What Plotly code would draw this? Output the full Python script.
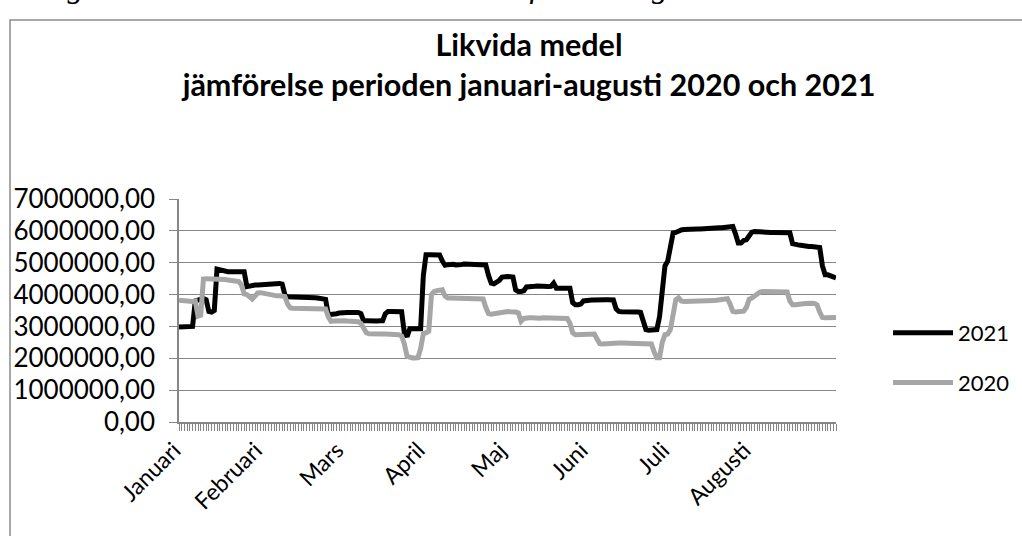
import plotly.graph_objects as go

# ---- data (values in millions SEK, one per day 1 Jan - 31 Aug) ----
values_2021_mkr = [
    2.98, 2.98, 2.98, 2.98, 2.99, 3.00,
    3.80, 3.84, 3.86, 3.88, 3.84,
    3.47, 3.45, 3.50,
    4.80, 4.78, 4.72, 4.72, 4.72, 4.72, 4.72, 4.72, 4.72, 4.72, 4.72,
    4.25, 4.28, 4.28, 4.30, 4.30, 4.31, 4.31, 4.32, 4.33, 4.34, 4.35, 4.35, 4.35, 4.33,
    4.00, 3.93, 3.93, 3.92, 3.92, 3.92, 3.91, 3.91, 3.91, 3.90, 3.90, 3.90, 3.89, 3.88, 3.88, 3.85,
    3.37, 3.37, 3.38, 3.40, 3.42, 3.44, 3.44, 3.44, 3.44, 3.45, 3.45, 3.44, 3.40,
    3.18, 3.18, 3.17, 3.17, 3.17, 3.17, 3.18, 3.18,
    3.40, 3.47, 3.47, 3.47, 3.47, 3.47, 3.46,
    2.80, 2.68, 2.93, 2.93, 2.93, 2.93, 2.93,
    4.60, 5.25, 5.25, 5.25, 5.25, 5.24, 5.24,
    5.05, 4.92, 4.94, 4.95, 4.95, 4.93, 4.92, 4.94, 4.96, 4.96, 4.94, 4.93, 4.93, 4.94, 4.95, 4.94, 4.93,
    4.60, 4.36, 4.34, 4.38, 4.45,
    4.55, 4.57, 4.57, 4.56, 4.55,
    4.15, 4.10, 4.10, 4.12,
    4.24, 4.26, 4.26, 4.26, 4.27, 4.26, 4.26, 4.25, 4.25, 4.26,
    4.36,
    4.20, 4.21, 4.21, 4.20, 4.20, 4.20,
    3.75, 3.68, 3.68, 3.70,
    3.80, 3.82, 3.82, 3.83, 3.83, 3.84, 3.84, 3.84, 3.84, 3.84, 3.84, 3.83,
    3.55, 3.47, 3.46, 3.46, 3.47, 3.48, 3.47, 3.46, 3.45, 3.44,
    3.20, 2.90, 2.88, 2.88, 2.88, 2.90,
    3.30, 4.00, 4.90, 5.05, 5.60, 5.93, 5.95, 6.00,
    6.03, 6.04, 6.05, 6.05, 6.05, 6.06, 6.06, 6.06, 6.07, 6.08, 6.08, 6.07, 6.08, 6.09, 6.10, 6.10, 6.11, 6.12, 6.13, 6.14,
    5.90, 5.62, 5.62, 5.70, 5.72, 5.85, 5.96,
    5.98, 5.97, 5.96, 5.96, 5.96, 5.95, 5.95, 5.95, 5.95, 5.95, 5.95, 5.95, 5.95, 5.94,
    5.60, 5.56, 5.56, 5.55, 5.53,
    5.51, 5.51, 5.51, 5.51, 5.50, 5.48,
    4.90, 4.62, 4.62, 4.60, 4.56, 4.52,
]

values_2020_mkr = [
    3.82, 3.81, 3.80, 3.79, 3.78, 3.78,
    3.80, 3.32, 3.35,
    4.49, 4.50, 4.50, 4.50, 4.49, 4.49, 4.49, 4.48, 4.47, 4.46, 4.45, 4.43, 4.42, 4.41,
    4.30, 4.02, 4.00, 3.92, 3.86, 3.95,
    4.05, 4.06, 4.04, 4.02,
    3.99, 3.98, 3.97, 3.96, 3.96, 3.95, 3.94,
    3.70, 3.58, 3.57, 3.57, 3.57, 3.57, 3.57, 3.56, 3.56, 3.56, 3.56, 3.56, 3.56, 3.55, 3.55,
    3.30, 3.16, 3.17, 3.18, 3.18, 3.18, 3.18, 3.17, 3.16, 3.16, 3.16, 3.15,
    3.10, 2.95, 2.80,
    2.77, 2.76, 2.76, 2.76, 2.76, 2.76, 2.76, 2.76, 2.76, 2.76, 2.75, 2.74, 2.70,
    2.45, 2.06, 2.02, 2.01, 2.01, 2.02, 2.30, 2.78, 2.80, 2.85,
    4.00, 4.10, 4.12, 4.13, 4.15,
    3.95, 3.89, 3.89, 3.89, 3.89, 3.88, 3.88, 3.88, 3.88, 3.88, 3.88, 3.88, 3.87, 3.87, 3.86,
    3.60, 3.40, 3.38, 3.40, 3.42, 3.45,
    3.47, 3.47, 3.47, 3.46, 3.46, 3.45, 3.42,
    3.16, 3.25,
    3.28, 3.27, 3.27, 3.26, 3.26, 3.26, 3.27, 3.27, 3.27, 3.27, 3.26, 3.26, 3.25, 3.25, 3.25, 3.25,
    3.10, 2.80, 2.74, 2.74, 2.74, 2.75, 2.76, 2.77, 2.77, 2.76,
    2.60, 2.46, 2.45, 2.46, 2.47, 2.47, 2.47, 2.48, 2.48, 2.48, 2.48, 2.48, 2.48, 2.48, 2.48, 2.47, 2.47, 2.47, 2.47, 2.46, 2.45,
    2.20, 2.02, 2.02, 2.50, 2.74, 2.76, 2.90, 3.30, 3.84,
    3.90, 3.80, 3.78, 3.78, 3.78, 3.78, 3.78, 3.79, 3.79, 3.79, 3.79, 3.80, 3.80, 3.81, 3.82, 3.84, 3.86, 3.87, 3.87,
    3.70, 3.47, 3.45, 3.45, 3.46, 3.48,
    3.60, 3.85, 3.89, 3.95, 4.05,
    4.08, 4.10, 4.10, 4.11, 4.11, 4.11, 4.11, 4.10, 4.10, 4.11, 4.08,
    3.80, 3.68, 3.68, 3.68, 3.70, 3.71, 3.72, 3.74, 3.73, 3.72, 3.68,
    3.45, 3.28, 3.27, 3.28, 3.29, 3.29, 3.28,
]

month_labels = ["Januari", "Februari", "Mars", "April", "Maj", "Juni", "Juli", "Augusti"]
month_label_positions = [0, 30, 60, 90, 120, 150, 180, 210]
y_ticks = [0, 1000000, 2000000, 3000000, 4000000, 5000000, 6000000, 7000000]

day_index = list(range(len(values_2021_mkr)))
v2021 = [v * 1_000_000 for v in values_2021_mkr]
v2020 = [v * 1_000_000 for v in values_2020_mkr]

W, H = 1022, 536
ML, MR, MT, MB = 179, 186, 199, 114
PW, PH = W - ML - MR, H - MT - MB

def px_x(px):
    return (px - ML) / PW

def px_y(py):
    return (H - MB - py) / PH

GRID = "#868686"
FONT = "Lato"

fig = go.Figure()
fig.add_trace(go.Scatter(x=day_index, y=v2021, mode="lines", name="2021",
                         line=dict(color="#000000", width=5), legendgroup="a"))
fig.add_trace(go.Scatter(x=day_index, y=v2020, mode="lines", name="2020",
                         line=dict(color="#A6A6A6", width=5), legendgroup="b"))

fig.update_layout(
    width=W, height=H,
    margin=dict(l=ML, r=MR, t=MT, b=MB, autoexpand=False),
    paper_bgcolor="white", plot_bgcolor="white",
    separators=", ",
    font=dict(family=FONT, size=22, color="#000000"),
    title=dict(
        text="<b>Likvida medel<br>jämförelse perioden januari-augusti 2020 och 2021</b>",
        x=529 / W, xref="container", xanchor="center",
        y=1 - 56 / H, yref="container", yanchor="top",
        font=dict(family=FONT, size=30.5, color="#000000"),
    ),
    showlegend=True,
    legend=dict(
        x=px_x(888), y=px_y(312), xanchor="left", yanchor="top",
        font=dict(family=FONT, size=22, color="#000000"),
        tracegroupgap=18, itemwidth=60, bgcolor="rgba(0,0,0,0)",
    ),
)

fig.update_xaxes(
    range=[0, len(day_index) - 1], automargin=False,
    tickmode="array", tickvals=month_label_positions, ticktext=month_labels,
    tickangle=-45, ticks="outside", ticklen=7, tickcolor=GRID,
    minor=dict(tickmode="linear", tick0=0, dtick=1, ticks="outside", ticklen=7,
               tickcolor=GRID, showgrid=False),
    showline=True, linecolor=GRID, linewidth=1.5,
    showgrid=False, zeroline=False,
    ticklabelstandoff=-3, ticklabelshift=-5,
    tickfont=dict(family=FONT, size=23),
)
fig.update_yaxes(
    range=[0, 7000000], tickvals=y_ticks, tickformat=".2f", automargin=False,
    ticks="outside", ticklen=8, tickcolor=GRID,
    showline=True, linecolor=GRID, linewidth=1.5,
    showgrid=True, gridcolor=GRID, gridwidth=1.2, zeroline=False,
    ticklabelstandoff=9,
    tickfont=dict(family=FONT, size=26),
)

# outer chart border (partly outside the visible page)
fig.add_shape(type="rect", xref="paper", yref="paper",
              x0=px_x(10), x1=px_x(1040), y0=px_y(560), y1=px_y(20),
              line=dict(color="#8C8C8C", width=1.5), fillcolor="rgba(0,0,0,0)", layer="below")

# cropped document text above the chart
fig.add_annotation(text="<i>I diagrammet nedan redovisas likviditetsförändringar under 2020-2021</i>",
                   xref="paper", yref="paper", x=px_x(5), y=px_y(6),
                   xanchor="left", yanchor="bottom", showarrow=False,
                   font=dict(family="Liberation Serif", size=32, color="#000000"))

fig.write_html("out.html", config={"displayModeBar": False},
               post_script="document.body.style.margin='0px';")
